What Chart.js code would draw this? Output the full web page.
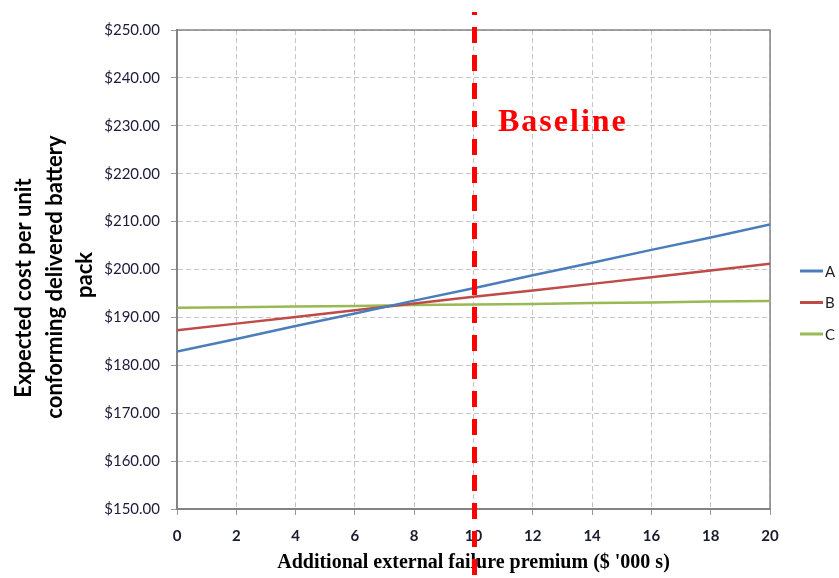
<!DOCTYPE html>
<html>
<head>
<meta charset="utf-8">
<script src="https://cdn.jsdelivr.net/npm/chart.js@4/dist/chart.umd.min.js"></script>
<style>
  html, body { margin: 0; padding: 0; background: #ffffff; }
  #wrap { width: 839px; height: 578px; }
</style>
</head>
<body>
<div id="wrap"><canvas id="chart" width="839" height="578"></canvas></div>
<script>
// Additional external failure premium ($ '000 s)
const premiums = [0, 2, 4, 6, 8, 10, 12, 14, 16, 18, 20];

// Expected cost per unit conforming delivered battery pack ($)
const seriesA = [182.9, 185.5, 188.2, 190.8, 193.5, 196.1, 198.8, 201.4, 204.1, 206.7, 209.4];
const seriesB = [187.3, 188.7, 190.1, 191.5, 192.9, 194.3, 195.6, 197.0, 198.4, 199.8, 201.2];
const seriesC = [192.0, 192.1, 192.3, 192.4, 192.6, 192.7, 192.8, 193.0, 193.1, 193.3, 193.4];
const seriesNames = ['A', 'B', 'C'];

const baselinePremium = 10;
const baselineLabel = 'Baseline';

const yTicks = [150, 160, 170, 180, 190, 200, 210, 220, 230, 240, 250];
const xTicks = [0, 2, 4, 6, 8, 10, 12, 14, 16, 18, 20];

const yTitleLines = ['Expected cost per unit', 'conforming delivered battery', 'pack'];
const xTitle = "Additional external failure premium ($ '000 s)";

const colors = ['#4a7ebb', '#be4b48', '#98b954'];
const seriesValues = [seriesA, seriesB, seriesC];

// Box around the plot area
const frame = {
  id: 'frame',
  beforeDatasetsDraw(chart) {
    const { ctx, chartArea: a } = chart;
    ctx.save();
    ctx.strokeStyle = '#858585';
    ctx.lineWidth = 1.5;
    ctx.strokeRect(a.left, a.top, a.right - a.left, a.bottom - a.top);
    ctx.restore();
  }
};

// Rotated multi-line y-axis title
const yTitle = {
  id: 'yTitle',
  afterDraw(chart) {
    const { ctx } = chart;
    const centres = [[24, 288], [55, 277], [85, 275]];
    ctx.save();
    ctx.font = 'bold 22px Lato, "Open Sans", sans-serif';
    ctx.fillStyle = '#000000';
    ctx.textAlign = 'center';
    ctx.textBaseline = 'middle';
    yTitleLines.forEach((line, i) => {
      ctx.save();
      ctx.translate(centres[i][0], centres[i][1]);
      ctx.rotate(-Math.PI / 2);
      ctx.fillText(line, 0, 0);
      ctx.restore();
    });
    ctx.restore();
  }
};

// Series key to the right of the plot, one short line per dataset
const seriesKey = {
  id: 'seriesKey',
  afterDraw(chart) {
    const { ctx } = chart;
    ctx.save();
    ctx.font = '15px Lato, "Open Sans", sans-serif';
    ctx.textAlign = 'left';
    ctx.textBaseline = 'middle';
    chart.data.datasets.forEach((ds, i) => {
      const y = 271 + i * 31.5;
      ctx.strokeStyle = ds.borderColor;
      ctx.lineWidth = 3;
      ctx.beginPath();
      ctx.moveTo(800, y);
      ctx.lineTo(823, y);
      ctx.stroke();
      ctx.fillStyle = '#222222';
      ctx.fillText(ds.label, 825, y + 1);
    });
    ctx.restore();
  }
};

// Dashed marker at the baseline premium with its label
const baseline = {
  id: 'baseline',
  afterDraw(chart) {
    const { ctx } = chart;
    const x = chart.scales.x.getPixelForValue(baselinePremium) + 1;
    ctx.save();
    ctx.strokeStyle = '#ff0000';
    ctx.lineWidth = 5;
    ctx.setLineDash([16, 12]);
    ctx.lineDashOffset = 13;
    ctx.beginPath();
    ctx.moveTo(x, 12);
    ctx.lineTo(x, chart.height);
    ctx.stroke();
    ctx.setLineDash([]);
    ctx.fillStyle = '#ff0000';
    ctx.font = 'bold 32px "Liberation Serif", "Times New Roman", serif';
    ctx.letterSpacing = '2px';
    ctx.textAlign = 'left';
    ctx.textBaseline = 'alphabetic';
    ctx.fillText(baselineLabel, 498, 131);
    ctx.restore();
  }
};

const chart = new Chart(document.getElementById('chart'), {
  type: 'line',
  data: {
    datasets: seriesValues.map((vals, i) => ({
      label: seriesNames[i],
      data: premiums.map((p, j) => ({ x: p, y: vals[j] })),
      borderColor: colors[i],
      backgroundColor: colors[i],
      borderWidth: 2.5,
      pointRadius: 0,
      tension: 0,
      fill: false
    }))
  },
  options: {
    responsive: false,
    animation: false,
    devicePixelRatio: 1,
    layout: { padding: { top: 30, right: 69, bottom: 0, left: 0 } },
    plugins: {
      tooltip: { enabled: false },
      legend: { display: false }
    },
    scales: {
      x: {
        type: 'linear',
        min: 0,
        max: 20,
        afterBuildTicks(scale) { scale.ticks = xTicks.map(v => ({ value: v })); },
        afterFit(scale) { scale.height = 69; },
        ticks: {
          color: '#1b1b2e',
          padding: 12,
          font: { family: 'Lato, "Open Sans", sans-serif', size: 15, weight: 'bold' },
          maxRotation: 0
        },
        grid: { color: '#c4c4c4', lineWidth: 1, tickLength: 6, tickColor: '#999999' },
        border: { display: true, color: '#7f7f7f', width: 2, dash: [5, 3] },
        title: {
          display: true,
          text: xTitle,
          color: '#000000',
          font: { family: '"Liberation Serif", "Times New Roman", serif', size: 20, weight: 'bold' },
          padding: { top: 0, bottom: 3 }
        }
      },
      y: {
        type: 'linear',
        min: 150,
        max: 250,
        afterBuildTicks(scale) { scale.ticks = yTicks.map(v => ({ value: v })); },
        afterFit(scale) { scale.width = 177; },
        ticks: {
          color: '#1b1b3a',
          padding: 11,
          font: { family: 'Lato, "Open Sans", sans-serif', size: 15 },
          callback: v => '$' + Number(v).toFixed(2)
        },
        grid: { color: '#c4c4c4', lineWidth: 1, tickLength: 6, tickColor: '#999999' },
        border: { display: true, color: '#7f7f7f', width: 2, dash: [5, 3] }
      }
    }
  },
  plugins: [frame, yTitle, seriesKey, baseline]
});
</script>
</body>
</html>
